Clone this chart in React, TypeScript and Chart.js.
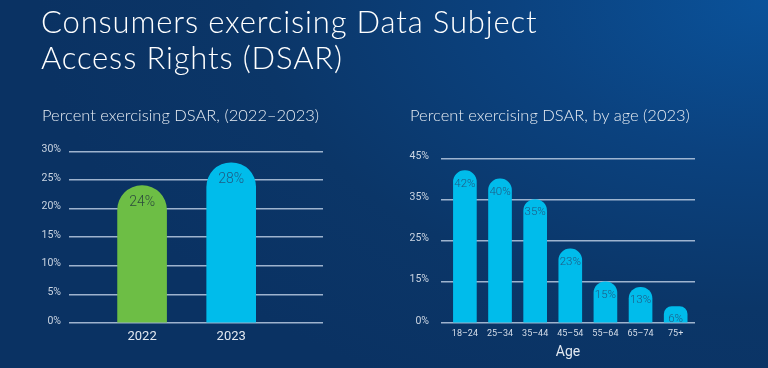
import React, { useEffect, useRef } from 'react';
import { Chart, registerables, LinearScale } from 'chart.js';

// ---- Data ----
const YEARS = ['2022', '2023'];
const YEAR_VALUES = [24, 28];
const YEAR_COLORS = ['#6dbe45', '#00bceb'];
const YEAR_LABEL_COLORS = ['#2c4a3d', '#1e5a84'];

const AGE_GROUPS = ['18–24', '25–34', '35–44', '45–54', '55–64', '65–74', '75+'];
const AGE_VALUES = [42, 40, 35, 23, 15, 13, 6];
const AGE_TICKS = [0, 15, 25, 35, 45];

// ---- Piecewise (evenly spaced ticks) scale ----
class PiecewiseScale extends LinearScale {
  static id = 'piecewise';
  buildTicks() {
    return AGE_TICKS.map((v) => ({ value: v }));
  }
  getPixelForValue(value: number) {
    const n = AGE_TICKS.length - 1;
    let i = 0;
    while (i < n - 1 && value > AGE_TICKS[i + 1]) i++;
    const frac = i + (value - AGE_TICKS[i]) / (AGE_TICKS[i + 1] - AGE_TICKS[i]);
    return (this as any).getPixelForDecimal(frac / n);
  }
  getValueForPixel(pixel: number) {
    const n = AGE_TICKS.length - 1;
    const d = (this as any).getDecimalForPixel(pixel) * n;
    const i = Math.max(0, Math.min(n - 1, Math.floor(d)));
    return AGE_TICKS[i] + (d - i) * (AGE_TICKS[i + 1] - AGE_TICKS[i]);
  }
}

Chart.register(...registerables, PiecewiseScale as any);

const FONT = 'Roboto, "Liberation Sans", Arial, sans-serif';
const TITLE_FONT = 'Lato, Roboto, "Liberation Sans", sans-serif';
const GRID = 'rgba(185,202,225,0.85)';
const TICK = '#cbd5e2';

const barLabels = {
  id: 'barLabels',
  afterDatasetsDraw(chart: any, _args: any, opts: any) {
    const ctx = chart.ctx;
    const meta = chart.getDatasetMeta(0);
    ctx.save();
    ctx.font = `300 ${opts.size}px ${FONT}`;
    ctx.textAlign = 'center';
    ctx.textBaseline = 'middle';
    meta.data.forEach((bar: any, i: number) => {
      const v = chart.data.datasets[0].data[i].y;
      ctx.fillStyle = Array.isArray(opts.color) ? opts.color[i] : opts.color;
      ctx.fillText(v + '%', bar.x, bar.y + opts.offset);
    });
    ctx.restore();
  },
};

function LeftChart() {
  const ref = useRef<HTMLCanvasElement>(null);
  useEffect(() => {
    const chart = new Chart(ref.current!, {
      type: 'bar',
      data: {
        datasets: [
          {
            data: YEARS.map((_, i) => ({ x: i, y: YEAR_VALUES[i] })) as any,
            backgroundColor: YEAR_COLORS,
            borderRadius: 999,
            borderSkipped: 'start',
            barThickness: 49,
          },
        ],
      },
      options: {
        responsive: false,
        animation: false,
        layout: { padding: { top: 10, right: 7, left: 0, bottom: 0 } },
        plugins: {
          legend: { display: false },
          tooltip: { enabled: false },
          barLabels: { size: 14, offset: 17, color: YEAR_LABEL_COLORS },
        } as any,
        scales: {
          x: {
            type: 'linear',
            offset: false,
            min: -0.82,
            max: 2.03,
            afterBuildTicks: (s: any) => {
              s.ticks = YEARS.map((_, i) => ({ value: i }));
            },
            afterFit: (s: any) => {
              s.height = 30;
            },
            ticks: {
              callback: (v: any) => YEARS[v as number],
              color: '#e2e8f0',
              font: { family: FONT, size: 13 },
              padding: 6,
              maxRotation: 0,
            },
            grid: { display: false, drawTicks: false },
            border: { display: false },
          },
          y: {
            min: 0,
            max: 30,
            afterFit: (s: any) => {
              s.width = 49;
            },
            ticks: {
              stepSize: 5,
              callback: (v: any) => v + '%',
              color: TICK,
              font: { family: FONT, size: 10.5 },
              padding: 8,
              labelOffset: -2,
            },
            grid: { color: GRID, lineWidth: 1.5, drawTicks: false },
            border: { display: false },
          },
        },
      },
      plugins: [barLabels],
    } as any);
    return () => chart.destroy();
  }, []);
  return (
    <canvas
      ref={ref}
      width={310}
      height={216}
      style={{ position: 'absolute', left: 20, top: 137, width: 310, height: 216 }}
    />
  );
}

function RightChart() {
  const ref = useRef<HTMLCanvasElement>(null);
  useEffect(() => {
    const chart = new Chart(ref.current!, {
      type: 'bar',
      data: {
        datasets: [
          {
            data: AGE_GROUPS.map((_, i) => ({ x: i, y: AGE_VALUES[i] })) as any,
            backgroundColor: '#00bceb',
            borderRadius: 999,
            borderSkipped: 'start',
            barThickness: 23,
          },
        ],
      },
      options: {
        responsive: false,
        animation: false,
        layout: { padding: { top: 9, right: 10, left: 0, bottom: 0 } },
        plugins: {
          legend: { display: false },
          tooltip: { enabled: false },
          barLabels: { size: 11.5, offset: 13, color: '#1e5a84' },
        } as any,
        scales: {
          x: {
            type: 'linear',
            offset: false,
            min: -0.68,
            max: 6.55,
            afterBuildTicks: (s: any) => {
              s.ticks = AGE_GROUPS.map((_, i) => ({ value: i }));
            },
            afterFit: (s: any) => {
              s.height = 41;
            },
            ticks: {
              callback: (v: any) => AGE_GROUPS[v as number],
              color: '#d5dde8',
              font: { family: FONT, size: 9 },
              padding: 5,
              maxRotation: 0,
              autoSkip: false,
            },
            title: {
              display: true,
              text: 'Age',
              color: '#e2e8f0',
              font: { family: FONT, size: 14 },
              padding: { top: 4, bottom: 3 },
            },
            grid: { display: false, drawTicks: false },
            border: { display: false },
          },
          y: {
            type: 'piecewise',
            min: 0,
            max: 45,
            afterFit: (s: any) => {
              s.width = 51;
            },
            ticks: {
              callback: (v: any) => v + '%',
              color: TICK,
              font: { family: FONT, size: 10.5 },
              padding: 12,
              labelOffset: -2,
            },
            grid: { color: GRID, lineWidth: 1.5, drawTicks: false },
            border: { display: false },
          },
        },
      },
      plugins: [barLabels],
    } as any);
    return () => chart.destroy();
  }, []);
  return (
    <canvas
      ref={ref}
      width={315}
      height={224}
      style={{ position: 'absolute', left: 390, top: 140, width: 315, height: 224 }}
    />
  );
}

export default function App() {
  return (
    <div
      style={{
        position: 'fixed',
        left: 0,
        top: 0,
        width: 768,
        height: 368,
        overflow: 'hidden',
        background:
          'radial-gradient(ellipse 95% 120% at 100% 0%, #0a529a 0%, #0b427f 35%, #0b3668 70%, #0a3263 100%)',
        fontFamily: FONT,
        color: '#ffffff',
      }}
    >
      <div
        style={{
          position: 'absolute',
          left: 41,
          top: 3,
          fontFamily: TITLE_FONT,
          fontSize: 31,
          fontWeight: 300,
          lineHeight: '36px',
          letterSpacing: '0.85px',
          whiteSpace: 'nowrap',
        }}
      >
        Consumers exercising Data Subject
        <br />
        Access Rights (DSAR)
      </div>
      <div
        style={{
          position: 'absolute',
          left: 42,
          top: 105,
          fontFamily: TITLE_FONT,
          fontSize: 16.5,
          fontWeight: 300,
          color: '#e6ecf3',
          whiteSpace: 'nowrap',
        }}
      >
        Percent exercising DSAR, (2022–2023)
      </div>
      <div
        style={{
          position: 'absolute',
          left: 410,
          top: 105,
          fontFamily: TITLE_FONT,
          fontSize: 16.5,
          fontWeight: 300,
          color: '#e6ecf3',
          whiteSpace: 'nowrap',
        }}
      >
        Percent exercising DSAR, by age (2023)
      </div>
      <LeftChart />
      <RightChart />
    </div>
  );
}
